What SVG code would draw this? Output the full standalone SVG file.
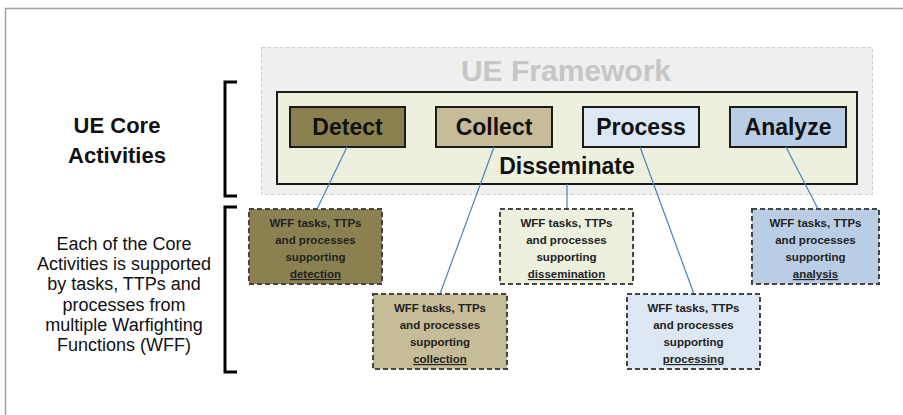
<svg xmlns="http://www.w3.org/2000/svg" width="903" height="415" viewBox="0 0 903 415">
<style>
.act{stroke:#1a1a1a;stroke-width:2}
.actt{font-family:"Liberation Sans",Arial,sans-serif;font-weight:bold;font-size:23px;fill:#111;text-anchor:middle}
.wff{stroke:#444;stroke-width:2;stroke-dasharray:5,3}
.wfft{font-family:"Liberation Sans",Arial,sans-serif;font-weight:bold;font-size:11.5px;fill:#222;text-anchor:middle}
.conn{stroke:#4f81bd;stroke-width:1.2;fill:none}
.brk{stroke:#000;stroke-width:3;fill:none}
.side{font-family:"Liberation Sans",Arial,sans-serif;fill:#111;text-anchor:middle}
</style>
<rect x="0" y="0" width="903" height="415" fill="#fff"/>
<rect x="5.5" y="8.5" width="910" height="420" fill="none" stroke="#a0a0a0" stroke-width="1.5"/>

<g id="side-labels">
<text class="side" x="117" y="133" font-size="22" font-weight="bold">UE Core</text>
<text class="side" x="117" y="163" font-size="22" font-weight="bold">Activities</text>
<text class="side" x="124" y="250" font-size="18">Each of the Core</text>
<text class="side" x="124" y="270.2" font-size="18">Activities is supported</text>
<text class="side" x="124" y="290.4" font-size="18">by tasks, TTPs and</text>
<text class="side" x="124" y="310.6" font-size="18">processes from</text>
<text class="side" x="124" y="330.8" font-size="18">multiple Warfighting</text>
<text class="side" x="124" y="351" font-size="18">Functions (WFF)</text>
</g>

<g id="brackets">
<path class="brk" d="M237,82 H225 V196 H237"/>
<path class="brk" d="M237,207 H225 V372 H237"/>
</g>

<g id="ue-framework">
<rect x="261.5" y="47.5" width="611" height="147" fill="#efefef" stroke="#cfcfcf" stroke-width="1" stroke-dasharray="4,2"/>
<text x="566" y="81" font-family="Liberation Sans,Arial,sans-serif" font-weight="bold" font-size="30" fill="#c6c6c6" text-anchor="middle">UE Framework</text>
</g>

<g id="disseminate">
<rect x="277" y="92" width="580" height="92" fill="#eef0de" stroke="#1a1a1a" stroke-width="2"/>
<text class="actt" x="567" y="173.5">Disseminate</text>
</g>

<g id="detect">
<rect class="act" x="290" y="107" width="115" height="40" fill="#8b8150"/>
<text class="actt" x="347.5" y="135">Detect</text>
</g>
<g id="collect">
<rect class="act" x="436" y="107" width="116" height="40" fill="#c6bc98"/>
<text class="actt" x="494" y="135">Collect</text>
</g>
<g id="process">
<rect class="act" x="583" y="107" width="116" height="40" fill="#dde7f3"/>
<text class="actt" x="641" y="135">Process</text>
</g>
<g id="analyze">
<rect class="act" x="730" y="107" width="116" height="40" fill="#b9cde4"/>
<text class="actt" x="788" y="135">Analyze</text>
</g>

<g id="connectors">
<line class="conn" x1="347" y1="147" x2="317" y2="209"/>
<line class="conn" x1="494" y1="147" x2="440" y2="294"/>
<line class="conn" x1="567" y1="184" x2="567" y2="209"/>
<line class="conn" x1="640" y1="147" x2="694" y2="294"/>
<line class="conn" x1="786" y1="147" x2="818" y2="209"/>
</g>

<g id="wff-detection">
<rect class="wff" x="249" y="209" width="133" height="75" fill="#8b8150"/>
<text class="wfft" x="315.5" y="227">WFF tasks, TTPs</text>
<text class="wfft" x="315.5" y="244">and processes</text>
<text class="wfft" x="315.5" y="261">supporting</text>
<text class="wfft" x="315.5" y="278" text-decoration="underline">detection</text>
</g>
<g id="wff-collection">
<rect class="wff" x="373" y="294" width="134" height="75" fill="#c6bc98"/>
<text class="wfft" x="440" y="312">WFF tasks, TTPs</text>
<text class="wfft" x="440" y="329">and processes</text>
<text class="wfft" x="440" y="346">supporting</text>
<text class="wfft" x="440" y="363" text-decoration="underline">collection</text>
</g>
<g id="wff-dissemination">
<rect class="wff" x="500" y="209" width="133" height="75" fill="#eef0de"/>
<text class="wfft" x="566.5" y="227">WFF tasks, TTPs</text>
<text class="wfft" x="566.5" y="244">and processes</text>
<text class="wfft" x="566.5" y="261">supporting</text>
<text class="wfft" x="566.5" y="278" text-decoration="underline">dissemination</text>
</g>
<g id="wff-processing">
<rect class="wff" x="627" y="294" width="133" height="75" fill="#dde7f3"/>
<text class="wfft" x="693.5" y="312">WFF tasks, TTPs</text>
<text class="wfft" x="693.5" y="329">and processes</text>
<text class="wfft" x="693.5" y="346">supporting</text>
<text class="wfft" x="693.5" y="363" text-decoration="underline">processing</text>
</g>
<g id="wff-analysis">
<rect class="wff" x="752" y="209" width="127" height="75" fill="#b9cde4"/>
<text class="wfft" x="815.5" y="227">WFF tasks, TTPs</text>
<text class="wfft" x="815.5" y="244">and processes</text>
<text class="wfft" x="815.5" y="261">supporting</text>
<text class="wfft" x="815.5" y="278" text-decoration="underline">analysis</text>
</g>
</svg>
